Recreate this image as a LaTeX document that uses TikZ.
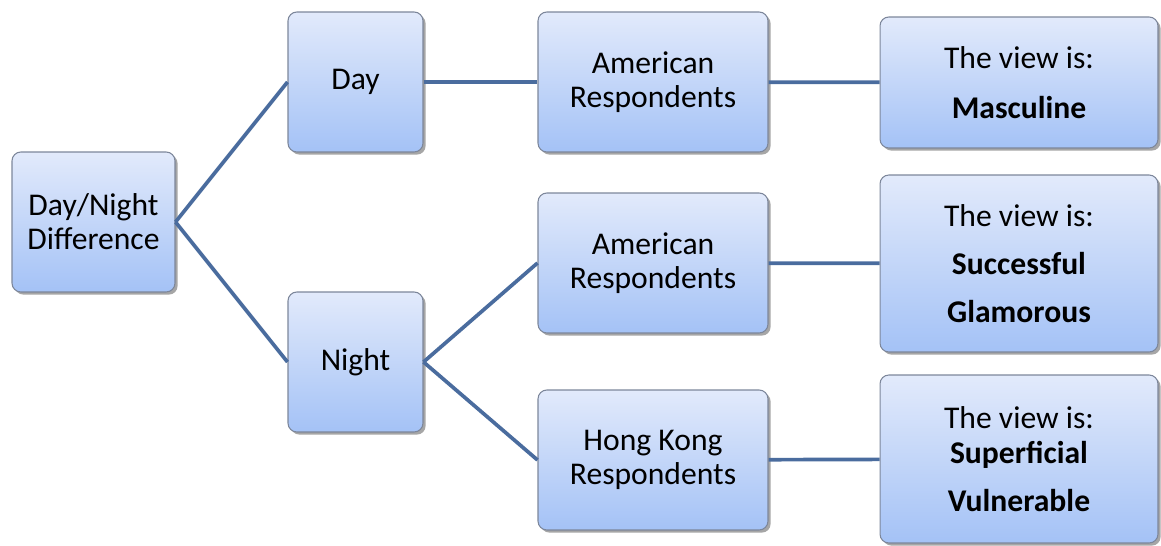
\documentclass[tikz,border=0pt]{standalone}
\usepackage{fontspec}
\setmainfont{Carlito}
\usepackage{tikz}
\usetikzlibrary{shadows,positioning}

\definecolor{boxtop}{RGB}{226,234,251}
\definecolor{boxbottom}{RGB}{164,194,246}
\definecolor{boxline}{RGB}{125,135,155}
\definecolor{linkblue}{RGB}{74,108,158}

\begin{document}
\begin{tikzpicture}[x=0.02cm, y=-0.02cm]
		\tikzstyle{Box}		= [rectangle, rounded corners=5pt, draw=boxline, line width=0.6pt,
							   top color=boxtop, bottom color=boxbottom, align=center,
							   drop shadow={shadow xshift=1.5pt, shadow yshift=-1.5pt, opacity=0.35, fill=black},
							   font=\fontsize{18}{19.3}\selectfont, inner sep=0pt, minimum height=2.8cm]
		\tikzstyle{Small}	= [minimum width=2.7cm]
		\tikzstyle{Root}	= [minimum width=3.26cm]
		\tikzstyle{Mid}		= [minimum width=4.6cm]
		\tikzstyle{View}	= [minimum width=5.56cm]
		\tikzstyle{Link}	= [linkblue, line width=2.1pt]

		\useasboundingbox (0,0) rectangle (1161,545);

		\node (dn) at (93.5, 222) [Box][Root] {Day/Night\\Difference};
		\node (day) at (355.5, 82) [Box][Small] {Day};
		\node (night) at (355.5, 362) [Box][Small] {Night};
		\node (am1) at (653, 82) [Box][Mid] {American\\Respondents};
		\node (am2) at (653, 263) [Box][Mid] {American\\Respondents};
		\node (hk) at (653, 460) [Box][Mid] {Hong Kong\\Respondents};
		\node (v1) at (1019, 82.5) [Box][View, minimum height=2.62cm] {The view is:\\[9pt]\textbf{Masculine}};
		\node (v2) at (1019, 263.5) [Box][View, minimum height=3.54cm] {The view is:\\[8pt]\textbf{Successful}\\[8pt]\textbf{Glamorous}};
		\node (v3) at (1019, 459) [Box][View, minimum height=3.36cm] {The view is:\\[1pt]\textbf{Superficial}\\[8pt]\textbf{Vulnerable}};

		\draw [-] (dn.east) to (day.west) [Link];
		\draw [-] (dn.east) to (night.west) [Link];
		\draw [-] (day) to (am1) [Link];
		\draw [-] (night.east) to (am2.west) [Link];
		\draw [-] (night.east) to (hk.west) [Link];
		\draw [-] (am1) to (v1) [Link];
		\draw [-] (am2) to (v2) [Link];
		\draw [-] (hk) to (v3) [Link];
	\end{tikzpicture}
\end{document}
